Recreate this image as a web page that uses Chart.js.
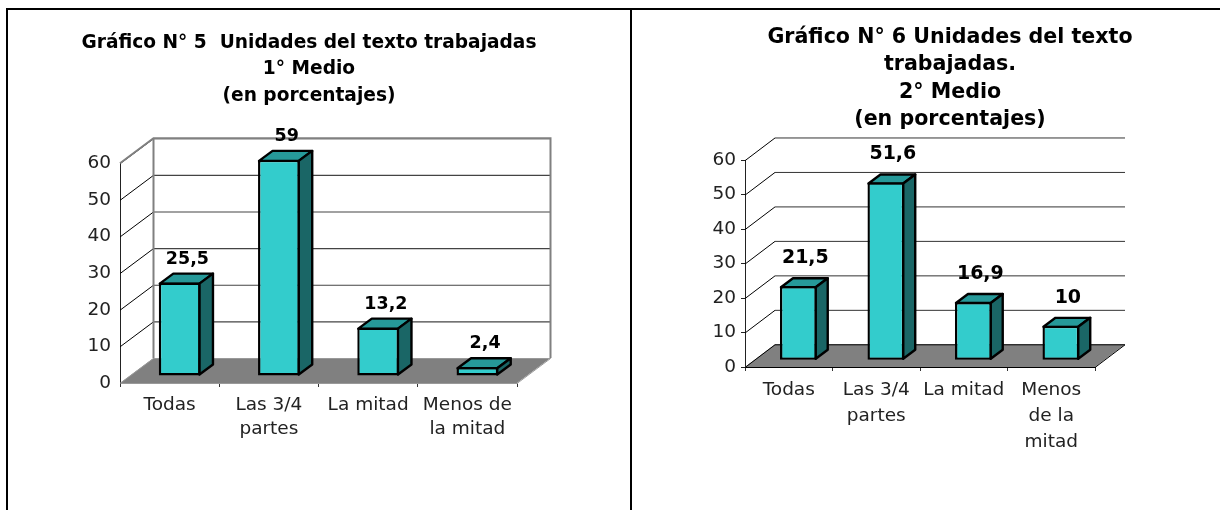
<!DOCTYPE html>
<html>
<head>
<meta charset="utf-8">
<script src="https://cdn.jsdelivr.net/npm/chart.js@4/dist/chart.umd.min.js"></script>
<style>
    html, body { margin: 0; background: #fff; }
    body { position: relative; width: 1220px; height: 510px; overflow: hidden; }
    .line { position: absolute; background: #000; }
    canvas { position: absolute; top: 0; }
</style>
</head>
<body>
<div class="line" style="left:6px;top:8px;width:1214px;height:2px"></div>
<div class="line" style="left:6px;top:8px;width:2px;height:502px"></div>
<div class="line" style="left:630px;top:8px;width:2px;height:502px"></div>
<canvas id="chart5" style="left:0" width="618" height="510"></canvas>
<canvas id="chart6" style="left:680px" width="540" height="510"></canvas>
<script>
const categories5 = [['Todas'], ['Las 3/4', 'partes'], ['La mitad'], ['Menos de', 'la mitad']];
const values5 = [25.5, 59, 13.2, 2.4];
const title5 = ['Gráfico N° 5  Unidades del texto trabajadas', '1° Medio', '(en porcentajes)'];

const categories6 = [['Todas'], ['Las 3/4', 'partes'], ['La mitad'], ['Menos', 'de la', 'mitad']];
const values6 = [21.5, 51.6, 16.9, 10];
const title6 = ['Gráfico N° 6 Unidades del texto', 'trabajadas.', '2° Medio', '(en porcentajes)'];

const yTicks = [0, 10, 20, 30, 40, 50, 60];

const FONT = '"DejaVu Sans", Verdana, sans-serif';
const FRONT = '#33cccc';
const TOP = '#269999';
const SIDE = '#1a6666';
const FLOOR = '#808080';

// caja 3D: paredes y suelo detras, barras desplazadas, etiquetas encima
const box3d = {
    id: 'box3d',
    beforeDatasetsDraw(chart, args, o) {
        const { ctx, chartArea: a, scales: { x, y } } = chart;
        const zero = y.getPixelForValue(0);

        ctx.save();
        ctx.fillStyle = FLOOR;
        ctx.beginPath();
        ctx.moveTo(a.left, zero);
        ctx.lineTo(a.left + o.depthX, zero - o.depthY);
        ctx.lineTo(a.right + o.depthX, zero - o.depthY);
        ctx.lineTo(a.right, zero);
        ctx.closePath();
        ctx.fill();

        // lineas de la cuadricula
        yTicks.forEach(v => {
            const py = y.getPixelForValue(v);
            ctx.lineWidth = 1;
            ctx.strokeStyle = v === 0 ? o.floorEdge : '#000';
            ctx.beginPath();
            ctx.moveTo(a.left, py + 0.5);
            ctx.lineTo(a.left + o.depthX, py - o.depthY + 0.5);
            ctx.stroke();
            ctx.strokeStyle = v === 0 ? o.floorEdge : o.grid;
            ctx.lineWidth = o.gridWidth;
            ctx.beginPath();
            ctx.moveTo(a.left + o.depthX, py - o.depthY + 0.5);
            ctx.lineTo(a.right + o.depthX, py - o.depthY + 0.5);
            ctx.stroke();
        });

        if (o.wall) {
            const top = y.getPixelForValue(60);
            ctx.strokeStyle = FLOOR;
            ctx.lineWidth = 2;
            ctx.beginPath();
            ctx.moveTo(a.left, top);
            ctx.lineTo(a.left + o.depthX, top - o.depthY);
            ctx.lineTo(a.right + o.depthX, top - o.depthY);
            ctx.lineTo(a.right + o.depthX, zero - o.depthY);
            ctx.moveTo(a.left + o.depthX, top - o.depthY);
            ctx.lineTo(a.left + o.depthX, zero - o.depthY);
            ctx.stroke();
        }

        ctx.strokeStyle = o.floorEdge;
        ctx.lineWidth = 1;
        ctx.beginPath();
        ctx.moveTo(a.right, zero + 0.5);
        ctx.lineTo(a.right + o.depthX, zero - o.depthY + 0.5);
        ctx.stroke();
        ctx.restore();

        // caras de arriba y del lado, la frontal la dibuja Chart.js
        ctx.save();
        ctx.translate(o.barX, -o.barY);
        ctx.lineWidth = 2.4;
        ctx.strokeStyle = '#000';
        ctx.lineJoin = 'round';
        chart.getDatasetMeta(0).data.forEach(bar => {
            const l = bar.x - bar.width / 2 + 1;
            const r = bar.x + bar.width / 2 - 1;
            const t = bar.y + 1;
            const b = bar.base - 1;
            ctx.fillStyle = TOP;
            ctx.beginPath();
            ctx.moveTo(l, t);
            ctx.lineTo(l + o.barDepthX, t - o.barDepthY);
            ctx.lineTo(r + o.barDepthX, t - o.barDepthY);
            ctx.lineTo(r, t);
            ctx.closePath();
            ctx.fill();
            ctx.stroke();
            ctx.fillStyle = SIDE;
            ctx.beginPath();
            ctx.moveTo(r, t);
            ctx.lineTo(r + o.barDepthX, t - o.barDepthY);
            ctx.lineTo(r + o.barDepthX, b - o.barDepthY);
            ctx.lineTo(r, b);
            ctx.closePath();
            ctx.fill();
            ctx.stroke();
        });
    },
    afterDatasetsDraw(chart, args, o) {
        const { ctx } = chart;
        ctx.restore();

        ctx.save();
        ctx.font = 'bold ' + o.labelSize + 'px ' + FONT;
        ctx.fillStyle = '#000';
        ctx.textAlign = 'center';
        ctx.textBaseline = 'alphabetic';
        const values = chart.data.datasets[0].data;
        chart.getDatasetMeta(0).data.forEach((bar, i) => {
            const text = String(values[i]).replace('.', ',');
            ctx.fillText(text, bar.x + o.barX + o.barDepthX / 2 + 1, bar.y - o.barY - o.labelGap);
        });
        ctx.restore();
    }
};

function drawChart(id, categories, values, title, cfg) {
    return new Chart(document.getElementById(id), {
        type: 'bar',
        plugins: [box3d],
        data: {
            labels: categories,
            datasets: [{
                data: values,
                backgroundColor: FRONT,
                borderColor: '#000',
                borderWidth: 2.4,
                borderSkipped: false,
                categoryPercentage: 1,
                barPercentage: 0.42,
                clip: false
            }]
        },
        options: {
            responsive: false,
            animation: false,
            layout: { padding: { left: 0, right: 0, top: cfg.top, bottom: 0 } },
            plugins: {
                legend: { display: false },
                tooltip: { enabled: false },
                title: {
                    display: true,
                    text: title,
                    color: '#000',
                    font: { family: FONT, size: cfg.titleSize, weight: 'bold', lineHeight: cfg.titleLine },
                    padding: { top: 0, bottom: cfg.titleGap }
                },
                box3d: cfg.box
            },
            scales: {
                x: {
                    grid: { drawOnChartArea: false, tickLength: 4, color: '#333' },
                    border: { color: cfg.box.floorEdge },
                    ticks: {
                        color: '#222',
                        maxRotation: 0,
                        autoSkip: false,
                        padding: cfg.xPad,
                        font: { family: FONT, size: 18.5, lineHeight: cfg.xLine }
                    },
                    afterFit(scale) { scale.height = cfg.xHeight; }
                },
                y: {
                    min: 0,
                    max: 60,
                    grid: { drawOnChartArea: false, tickLength: cfg.yTick, color: '#222' },
                    border: { color: '#222' },
                    ticks: {
                        stepSize: 10,
                        color: '#222',
                        padding: cfg.yPad,
                        font: { family: FONT, size: 18.5 }
                    },
                    afterFit(scale) { scale.width = cfg.yWidth; }
                },
                // eje vacio: deja sitio a la derecha sin mover el titulo
                spacer: {
                    position: 'right',
                    ticks: { display: false },
                    grid: { display: false },
                    border: { display: false },
                    afterFit(scale) { scale.width = cfg.right; }
                }
            }
        }
    });
}

drawChart('chart5', categories5, values5, title5, {
    right: 101, top: 30, titleSize: 18.6, titleLine: 1.42, titleGap: 54,
    xHeight: 127, xPad: 6, xLine: 1.32, yWidth: 120, yPad: 9, yTick: 0,
    box: { depthX: 33.5, depthY: 25, barX: 10, barY: 7, barDepthX: 13.5, barDepthY: 10,
           labelSize: 17.5, labelGap: 19, wall: true, grid: '#444', gridWidth: 1.2, floorEdge: '#999' }
});

drawChart('chart6', categories6, values6, title6, {
    right: 125, top: 24, titleSize: 20.6, titleLine: 1.325, titleGap: 27,
    xHeight: 143, xPad: 6, xLine: 1.405, yWidth: 65, yPad: 5, yTick: 4,
    box: { depthX: 30, depthY: 22.7, barX: 9.6, barY: 6.7, barDepthX: 12, barDepthY: 9,
           labelSize: 19, labelGap: 23, wall: false, grid: '#333', gridWidth: 1, floorEdge: '#000' }
});
</script>
</body>
</html>
